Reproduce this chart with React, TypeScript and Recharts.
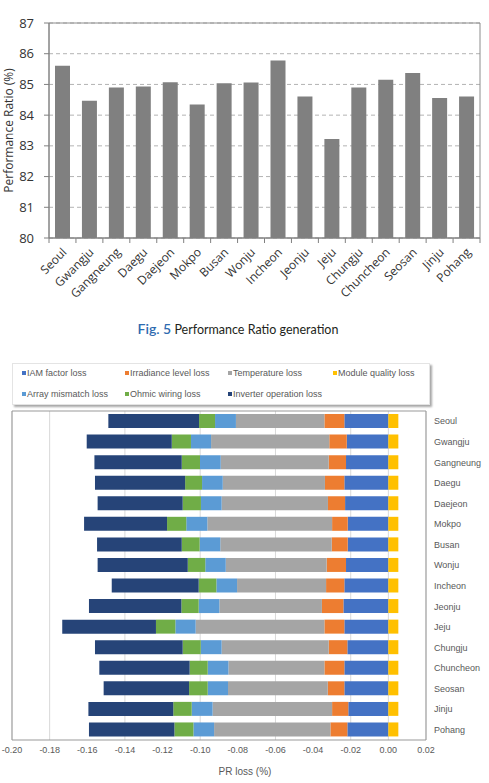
import React from 'react';
import {
  BarChart,
  Bar,
  XAxis,
  YAxis,
  CartesianGrid,
  ReferenceArea,
  Label,
} from 'recharts';

// performance ratio by station (%)
const cities = [
  'Seoul', 'Gwangju', 'Gangneung', 'Daegu', 'Daejeon', 'Mokpo', 'Busan', 'Wonju',
  'Incheon', 'Jeonju', 'Jeju', 'Chungju', 'Chuncheon', 'Seosan', 'Jinju', 'Pohang',
];
const prValues = [85.61, 84.47, 84.9, 84.93, 85.07, 84.35, 85.04, 85.06, 85.78, 84.61, 83.22, 84.9, 85.15, 85.37, 84.56, 84.61];
const prTicks = [80, 81, 82, 83, 84, 85, 86, 87];

// PR loss breakdown per station (fraction, losses negative)
const iamLoss = [-0.0234, -0.0221, -0.0225, -0.0234, -0.023, -0.0216, -0.0216, -0.0225, -0.0234, -0.0239, -0.0234, -0.0218, -0.0234, -0.0234, -0.0213, -0.0218];
const irradianceLoss = [-0.0106, -0.0093, -0.0092, -0.0103, -0.0091, -0.0083, -0.0085, -0.0103, -0.0097, -0.0114, -0.0106, -0.0099, -0.0106, -0.0088, -0.0086, -0.009];
const temperatureLoss = [-0.047, -0.0628, -0.0574, -0.0543, -0.0565, -0.0663, -0.0592, -0.0536, -0.0473, -0.0545, -0.0684, -0.0569, -0.051, -0.053, -0.0635, -0.0618];
const moduleQualityLoss = [0.0053, 0.0053, 0.0053, 0.0053, 0.0053, 0.0053, 0.0053, 0.0053, 0.0053, 0.0053, 0.0053, 0.0053, 0.0053, 0.0053, 0.0053, 0.0053];
const arrayMismatchLoss = [-0.0111, -0.0107, -0.011, -0.011, -0.011, -0.0112, -0.011, -0.0109, -0.011, -0.011, -0.0108, -0.0111, -0.011, -0.0108, -0.0111, -0.011];
const ohmicWiringLoss = [-0.0085, -0.0102, -0.0097, -0.009, -0.0097, -0.0102, -0.0095, -0.0093, -0.0094, -0.0092, -0.0103, -0.0096, -0.0096, -0.0099, -0.0098, -0.0101];
const inverterLoss = [-0.0482, -0.0452, -0.0464, -0.0479, -0.0452, -0.0441, -0.045, -0.0479, -0.0462, -0.0491, -0.0498, -0.0466, -0.048, -0.0454, -0.0451, -0.0454];
const lossTicks = [-0.2, -0.18, -0.16, -0.14, -0.12, -0.1, -0.08, -0.06, -0.04, -0.02, 0, 0.02];

const lossSeries = [
  { key: 'iam', name: 'IAM factor loss', color: '#4472c4', values: iamLoss },
  { key: 'irradiance', name: 'Irradiance level loss', color: '#ed7d31', values: irradianceLoss },
  { key: 'temperature', name: 'Temperature loss', color: '#a5a5a5', values: temperatureLoss },
  { key: 'module', name: 'Module quality loss', color: '#ffc000', values: moduleQualityLoss },
  { key: 'array', name: 'Array mismatch loss', color: '#5b9bd5', values: arrayMismatchLoss },
  { key: 'ohmic', name: 'Ohmic wiring loss', color: '#70ad47', values: ohmicWiringLoss },
  { key: 'inverter', name: 'Inverter operation loss', color: '#264478', values: inverterLoss },
];

const prData = cities.map((city, i) => ({ city, pr: prValues[i] }));
const lossData = cities.map((city, i) => {
  const row: Record<string, string | number> = { city };
  lossSeries.forEach((s) => { row[s.key] = s.values[i]; });
  return row;
});

const TOP_W = 489;
const TOP_H = 312;
const TOP_LEFT = 49;
const TOP_RIGHT = 9;
const STEP = (TOP_W - TOP_LEFT - TOP_RIGHT) / cities.length;
const SANS = '"Open Sans", sans-serif';
const ARIAL = '"Liberation Sans", Arial, sans-serif';

// rotated station name plus Excel-style tick marks between categories
const CityTick = (props: any) => {
  const { x, y, payload, index } = props;
  const half = STEP / 2;
  const tx = x + 5;
  const ty = y + 15;
  return (
    <g>
      <line x1={x - half} x2={x - half} y1={y} y2={y + 5} stroke="#808080" />
      {index === cities.length - 1 && (
        <line x1={x + half} x2={x + half} y1={y} y2={y + 5} stroke="#808080" />
      )}
      <text
        x={tx}
        y={ty}
        textAnchor="end"
        fontSize={12}
        fontFamily={SANS}
        fill="#333"
        transform={`rotate(-45 ${tx} ${ty})`}
      >
        {payload.value}
      </text>
    </g>
  );
};

const PrTitle = (props: any) => {
  const { viewBox } = props;
  const cy = viewBox.y + viewBox.height / 2;
  return (
    <text
      x={8}
      y={cy}
      transform={`rotate(-90 8 ${cy})`}
      textAnchor="middle"
      dominantBaseline="central"
      fontSize={12}
      fontFamily={SANS}
      fill="#333"
    >
      Performance Ratio (%)
    </text>
  );
};

const LossTitle = (props: any) => {
  const { viewBox } = props;
  return (
    <text
      x={245}
      y={viewBox.y + viewBox.height - 8}
      textAnchor="middle"
      fontSize={10}
      fontFamily={ARIAL}
      fill="#595959"
    >
      PR loss (%)
    </text>
  );
};

const legendCols = [9, 112, 215, 320];

const LossLegend = () => (
  <div
    style={{
      position: 'absolute',
      left: 12,
      top: 363,
      width: 416,
      height: 40,
      border: '1px solid #e4e4e4',
      boxShadow: '2px 2px 2px rgba(0,0,0,0.35)',
      background: '#fff',
      fontFamily: ARIAL,
      fontSize: 9,
      color: '#595959',
    }}
  >
    {lossSeries.map((s, i) => (
      <div
        key={s.key}
        style={{
          position: 'absolute',
          left: legendCols[i % 4],
          top: i < 4 ? 3 : 24,
          height: 12,
          lineHeight: '12px',
          whiteSpace: 'nowrap',
          display: 'flex',
          alignItems: 'center',
        }}
      >
        <span style={{ display: 'inline-block', width: 4, height: 4, background: s.color, marginRight: 1 }} />
        {s.name}
      </div>
    ))}
  </div>
);

export default function App() {
  return (
    <div style={{ position: 'absolute', left: 0, top: 0, width: 489, height: 783, background: '#fff' }}>
      <div style={{ position: 'absolute', left: 0, top: 0 }}>
        <BarChart
          width={TOP_W}
          height={TOP_H}
          data={prData}
          margin={{ top: 23, right: TOP_RIGHT, bottom: 0, left: 0 }}
        >
          <CartesianGrid vertical={false} stroke="#b3b3b3" strokeDasharray="4 3" />
          <XAxis
            dataKey="city"
            interval={0}
            tickLine={false}
            tickSize={0}
            tickMargin={0}
            height={TOP_H - 238}
            axisLine={{ stroke: '#808080' }}
            tick={<CityTick />}
          />
          <YAxis
            domain={[80, 87]}
            ticks={prTicks}
            width={TOP_LEFT}
            tickSize={5}
            tickMargin={10}
            tick={{ fontSize: 13, fill: '#333', fontFamily: SANS }}
            axisLine={{ stroke: '#808080' }}
            tickLine={{ stroke: '#808080' }}
          >
            <Label content={<PrTitle />} />
          </YAxis>
          <ReferenceArea y1={80} y2={87} fill="none" stroke="#8c8c8c" />
          <Bar dataKey="pr" fill="#808080" barSize={15} isAnimationActive={false} />
        </BarChart>
      </div>

      <div
        style={{
          position: 'absolute',
          left: 0,
          width: 476,
          top: 320,
          textAlign: 'center',
          fontFamily: 'Lato, sans-serif',
          fontSize: 12.5,
          color: '#231f20',
        }}
      >
        <span style={{ color: '#2e6bb0', fontSize: 14, fontWeight: 600 }}>Fig. 5</span> Performance Ratio generation
      </div>

      <LossLegend />

      <div style={{ position: 'absolute', left: 0, top: 350 }}>
        <BarChart
          width={489}
          height={433}
          data={lossData}
          layout="vertical"
          stackOffset="sign"
          margin={{ top: 61, right: 5, bottom: 0, left: 12 }}
        >
          <CartesianGrid horizontal={false} stroke="#d9d9d9" />
          <XAxis
            type="number"
            domain={[-0.2, 0.02]}
            ticks={lossTicks}
            allowDataOverflow
            height={43}
            tickLine={false}
            axisLine={false}
            tickSize={0}
            tickMargin={7}
            tickFormatter={(v: number) => v.toFixed(2)}
            tick={{ fontSize: 9, fill: '#595959', fontFamily: ARIAL }}
          >
            <Label content={<LossTitle />} />
          </XAxis>
          <YAxis
            type="category"
            dataKey="city"
            orientation="right"
            width={58}
            interval={0}
            tickLine={false}
            axisLine={false}
            tickSize={0}
            tickMargin={8}
            tick={{ fontSize: 9, fill: '#595959', fontFamily: ARIAL, textAnchor: 'start' }}
          />
          <ReferenceArea x1={-0.2} x2={0.02} fill="none" stroke="#999" />
          {lossSeries.map((s) => (
            <Bar
              key={s.key}
              dataKey={s.key}
              name={s.name}
              stackId="loss"
              fill={s.color}
              barSize={14}
              isAnimationActive={false}
            />
          ))}
        </BarChart>
      </div>
    </div>
  );
}
